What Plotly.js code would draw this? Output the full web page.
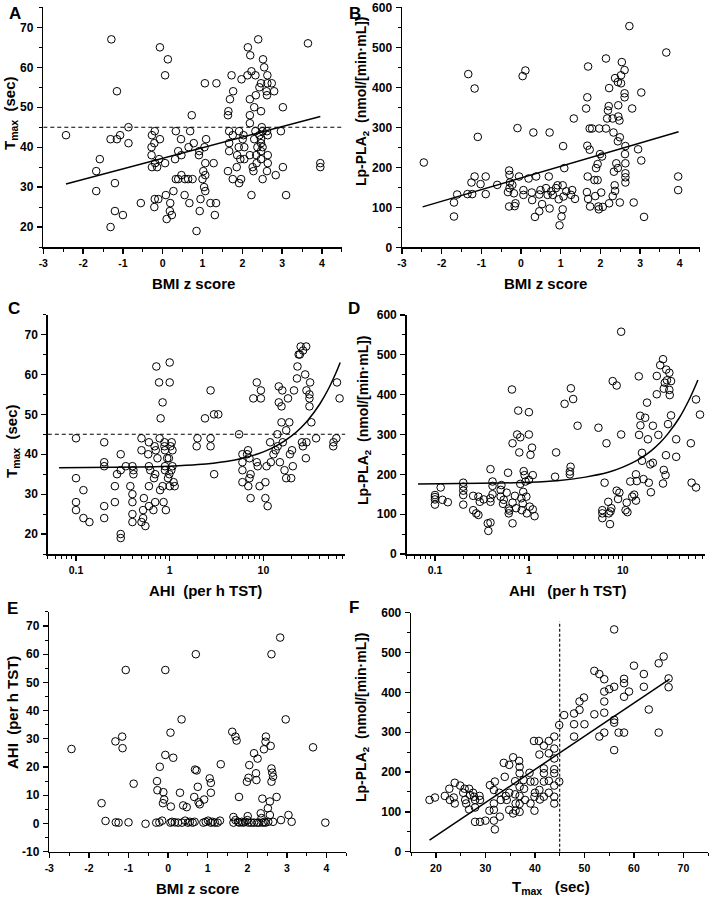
<!DOCTYPE html>
<html><head><meta charset="utf-8">
<script src="https://cdn.plot.ly/plotly-3.0.1.min.js"></script>
<style>body{margin:0;background:#fff}#chart{width:709px;height:900px}</style>
</head><body><div id="chart"></div>
<script>
// ---------- DATA ----------
// Panel A: BMI z score vs Tmax (sec)
const ptsA = [[-2.43,43],[-1.67,34],[-1.58,37],[-1.67,29],[-1.29,67],[-1.15,54],[-1.31,42],[-1.15,42],[-1.07,43],[-1.2,31],[-1.2,24],[-1.0,23],[-1.31,20],[-0.86,45],[-0.86,41],[-0.55,26],
[-0.07,65],[0.13,62],[0.06,58],[-0.2,44],[-0.27,43],[-0.07,42],[-0.21,41],[-0.28,40],[-0.28,38],[-0.09,37],[-0.19,36],[-0.27,35],[-0.14,35],[0.06,36],[-0.2,27],[-0.11,27],[-0.21,25],[0.08,28],[0.19,26],[0.18,24],[0.23,23],[0.1,22],[0.27,29],
[0.33,44],[0.46,42],[0.39,39],[0.31,37],[0.47,38],[0.33,32],[0.39,32],[0.47,33],[0.55,28],[0.67,26],[0.65,40],[0.69,44],[0.73,48],[0.78,41],[0.75,32],[0.64,32],[0.56,32],[0.85,19],[0.91,38],[0.95,27],[0.93,24],[0.92,39],
[1.06,56],[1.35,56],[1.05,40],[1.09,42],[1.07,36],[1.02,34],[1.07,33],[1.0,32],[1.04,30],[1.07,29],[1.2,26],[1.34,26],[1.31,23],[1.28,36],
[1.73,58],[1.77,54],[1.69,52],[1.65,49],[1.64,48],[1.67,44],[1.76,43],[1.67,41],[1.67,39],[1.64,34],[1.76,32],[1.86,35],[1.87,38],[1.91,40],[1.92,44],[1.98,57],[2.01,42],[1.95,37],[2.05,37],[1.92,31],[1.97,32],[2.03,43],[2.05,40],
[2.14,65],[2.4,67],[2.2,63],[2.23,59],[2.13,58],[2.33,58],[2.55,60],[2.52,62],[2.63,58],[2.47,56],[2.63,56],[2.74,56],[2.43,55],[2.61,54],[2.8,54],[2.34,53],[2.62,53],[2.19,52],[2.3,50],[2.47,49],[2.19,48],[2.19,46],[2.49,45],[2.51,44],[2.33,44],[2.62,44],[2.43,43],[2.64,43],[2.3,42],[2.47,42],[2.38,40],[2.51,40],[2.47,41],[2.19,38],[2.35,38],[2.64,38],[2.47,37],[2.36,36],[2.64,36],[2.26,35],[2.28,34],[2.62,34],[2.84,33],[2.51,32],[2.23,28],[2.47,39],
[3.02,50],[2.97,44],[3.02,35],[3.1,28],[3.65,66],[3.96,36],[3.96,35]];
const fitA_x = [-2.43, 3.96];
const fitA_y = [30.8, 47.7];

// Panel B: BMI z score vs Lp-PLA2
const ptsB = [[-2.45,212],[-1.69,77],[-1.69,112],[-1.61,132],[-1.35,133],[-1.33,433],[-1.17,397],[-1.25,162],[-1.17,177],[-1.23,133],[-1.09,276],[-1.02,158],[-0.89,177],[-0.89,133],[-0.6,156],
[-0.3,192],[-0.29,181],[-0.28,162],[-0.22,156],[-0.33,138],[-0.29,148],[-0.3,102],[-0.16,103],[-0.14,110],[-0.09,298],[-0.18,135],[-0.05,177],[0.04,428],[0.11,442],[0.06,143],[0.06,131],[0.19,172],[0.27,137],[0.28,118],[0.35,76],[0.31,287],[0.38,177],[0.46,90],[0.46,132],[0.49,143],[0.53,108],[0.63,148],[0.67,131],[0.7,177],[0.72,287],[0.72,97],[0.76,140],[0.8,131],[0.88,148],[0.92,155],[0.95,120],[0.97,55],[1.02,77],[1.05,95],[1.05,155],[1.07,127],[1.06,253],[1.09,198],[1.14,140],[1.26,131],[1.33,322],[1.36,121],[1.29,143],
[1.64,347],[1.67,375],[1.69,452],[1.67,254],[1.73,244],[1.73,297],[1.79,297],[1.68,177],[1.66,138],[1.69,121],[1.74,102],[1.85,168],[1.89,198],[1.93,208],[1.93,168],[1.87,128],[1.95,102],[1.96,95],[1.97,297],[1.99,233],[2.04,227],[2.02,137],[2.06,101],[2.14,472],[2.14,297],[2.17,322],[2.19,342],[2.22,398],[2.21,353],[2.22,110],
[2.31,322],[2.33,287],[2.34,189],[2.36,155],[2.37,141],[2.31,128],[2.37,423],[2.44,413],[2.4,210],[2.44,198],[2.45,355],[2.45,327],[2.48,317],[2.44,265],[2.49,275],[2.52,430],[2.54,463],[2.52,410],[2.61,443],[2.61,385],[2.61,375],[2.49,112],[2.63,253],[2.62,233],[2.63,210],[2.63,185],[2.63,175],[2.63,162],[2.73,553],[2.8,347],[2.84,112],[2.95,245],[3.03,387],[3.03,217],[3.1,76],[3.66,487],[3.96,177],[3.96,143]];
const fitB_x = [-2.48, 3.97];
const fitB_y = [101, 289];

// Panel C: AHI (log) vs Tmax
const ptsC = [[0.1,44],[0.1,34],[0.1,28],[0.1,26],[0.12,31],[0.12,24],[0.139,23],
[0.2,43],[0.2,38],[0.2,37],[0.2,27],[0.2,24],
[0.26,32],[0.26,28],[0.274,35],[0.3,36],[0.3,40],[0.3,20],[0.3,19],
[0.34,37],[0.38,32],[0.4,30],[0.4,28],[0.4,37],[0.41,36],[0.41,35],[0.4,25],[0.4,23],
[0.5,44],[0.5,41],[0.5,23],[0.52,26],[0.52,24],[0.55,22],[0.53,29],[0.6,43],[0.59,40],[0.6,37],[0.6,32],[0.6,27],[0.62,36],[0.67,26],[0.7,35],[0.7,28],[0.68,34],[0.69,42],[0.71,41],[0.74,39],[0.78,44],[0.72,62],[0.77,58],[0.84,53],[0.8,49],[0.79,31],[0.84,32],[0.86,28],[0.88,43],[0.88,42],[0.89,41],[0.89,37],[0.89,36],[0.91,26],[0.94,39],[0.96,34],[0.99,35],[1.0,32],[1.0,63],[1.0,58],[1.02,42],[1.04,36],[1.07,37],[1.07,41],[1.05,43],[1.1,33],[1.13,32],[0.98,39],
[1.94,42],[1.98,44],[2.38,49],[2.73,56],[2.73,44],[2.73,42],[2.97,50],[3.3,50],[2.98,35],
[5.5,45],[5.97,40],[5.97,38],[5.97,36],[5.97,33],[6.86,41],[6.7,40],[7.1,39],[7.3,35],[7.1,34],[6.9,32],[7.3,29],[7.8,54],[8.5,58],[8.5,38],[8.7,37],[9.1,32],[9.4,56],[9.4,54],[10.5,33],[10.5,29],[11.1,27],[10.8,37],[11.8,43],[12.0,38],[12.8,40],[13.5,41],[14.1,45],[14.2,42],[14.6,57],[14.6,53],[15,38],[15.6,52],[15.6,48],[15.9,56],[16.1,43],[16.8,36],[17.5,46],[17.5,34],[18.3,54],[18.9,48],[19.2,40],[19.8,34],[20.2,41],[20.6,37],[21.2,56],[22.8,59],[23.1,62],[23.8,65],[24.5,65],[25,67],[26.5,66],[28.6,67],[25.8,43],[26.4,42],[27.9,60],[28.8,56],[28.4,39],[28.8,43],[31,55],[31,54],[31,52],[31.5,58],[32.5,48],[36.5,44],[60,44],[55.6,42],[56,43],[61,58],[65,54]];
const fitC_x = [0.066,0.5,1,2,4,6,10,15,20,25,30,40,50,60,66];
const fitC_y = [36.6,36.8,37.0,37.4,38.2,39.0,40.6,42.6,44.6,46.6,48.6,52.6,56.6,60.6,63.0];

// Panel D: AHI (log) vs Lp-PLA2
const ptsD = [[0.1,148],[0.1,137],[0.1,124],[0.1,143],[0.115,167],[0.12,136],[0.137,130],
[0.2,179],[0.2,169],[0.2,159],[0.2,148],[0.2,124],
[0.255,146],[0.255,110],[0.275,102],[0.29,98],[0.29,144],[0.3,131],[0.33,137],[0.365,77],[0.37,58],[0.39,79],[0.39,213],[0.39,140],[0.39,131],[0.41,150],[0.41,182],[0.41,171],[0.51,173],[0.5,161],[0.5,144],[0.53,126],[0.54,136],[0.6,204],[0.58,154],[0.61,102],[0.61,114],[0.62,109],[0.67,129],[0.67,77],[0.67,278],[0.66,413],[0.71,146],[0.73,115],[0.75,300],[0.77,360],[0.79,255],[0.81,293],[0.81,176],[0.83,140],[0.84,110],[0.87,156],[0.86,127],[0.88,208],[0.9,198],[0.92,182],[0.94,144],[0.95,102],[1.0,356],[1.0,300],[1.0,186],[1.02,119],[1.04,249],[1.08,267],[1.1,198],[1.1,112],[1.15,95],
[1.95,255],[1.9,194],[2.4,377],[2.8,416],[2.96,389],[2.78,219],[2.73,207],[2.73,200],[3.3,322],
[5.5,317],[6.4,179],[6.05,90],[6.05,110],[6.05,102],[6.7,278],[7.0,131],[7.1,102],[7.3,75],[7.4,107],[7.55,115],[7.8,434],[8.6,423],[8.6,159],[8.9,138],[9.2,154],[9.6,558],[9.6,300],[10.7,110],[11.0,129],[11.2,105],[12.0,182],[12.6,144],[13.2,149],[13.8,134],[13.8,200],[14.1,183],[14.8,446],[14.9,299],[15.4,323],[15.3,347],[16,254],[16,234],[16.6,188],[17.3,342],[18.1,380],[18.5,288],[18.9,179],[19.6,225],[19.9,155],[20.9,322],[20.9,229],[23,447],[23,401],[23.9,299],[25,474],[26.8,489],[27.3,415],[28,430],[27.3,211],[26.8,177],[28.5,198],[28.8,248],[29,463],[29.5,436],[30.3,326],[31.3,412],[31.6,399],[31.3,455],[32.6,434],[32.6,348],[37,288],[37,244],[53,278],[54,179],[60.2,167],[60.2,388],[66.3,350]];
const fitD_x = [0.066,0.5,1,2,4,7,10,15,20,25,30,40,50,60,63];
const fitD_y = [176,178,180,184,193,205,218,238,259,280,301,342,384,425,437];

// Panel E: BMI z score vs AHI
const ptsE = [[-2.44,26.4],[-1.68,7.2],[-1.58,0.9],[-1.33,29.1],[-1.16,30.8],[-1.15,26.7],[-1.07,54.4],[-1.32,0.4],[-1.25,0.3],[-1.0,0.4],[-0.87,14.1],[-0.57,-0.1],[-0.28,15],[-0.27,11.8],[-0.21,20.1],[-0.3,0.3],[-0.22,0.4],[-0.12,11.1],[-0.13,7.2],[-0.1,8.5],[-0.15,1.0],[-0.07,54.4],[-0.07,24.3],[0.06,32.2],[0.07,6.0],[0.13,23.3],[0.06,0.3],[0.17,0.4],[0.3,10.9],[0.34,36.9],[0.38,6.4],[0.47,5.8],[0.35,0.3],[0.43,1.0],[0.5,0.3],[0.62,0.3],[0.66,9.4],[0.68,19.1],[0.72,18.8],[0.7,60],[0.75,13],[0.77,7.5],[0.8,6.8],[0.67,0.6],[0.89,0.3],[0.91,8.5],[1.01,1.0],[1.05,16],[1.08,14.4],[1.08,10.9],[1.08,0.3],[1.18,0.3],[1.25,0.3],[1.33,21],[1.31,1.0],[1.62,32.5],[1.7,30.8],[1.73,29.4],[1.65,0.3],[1.7,1.2],[1.65,2.3],[1.79,9.4],[1.77,0.6],[1.86,0.6],[1.95,0.6],[1.99,14.8],[2.05,20.7],[2.03,16.2],[2.01,2.6],[2.0,1.2],[2.03,0.3],[2.17,24.9],[2.22,17.8],[2.23,15.4],[2.26,23],[2.17,0.3],[2.3,0.3],[2.34,3.6],[2.36,1.9],[2.38,8.8],[2.42,26.3],[2.47,30.8],[2.46,29],[2.52,5.4],[2.57,7.8],[2.59,27.5],[2.57,3.0],[2.39,0.3],[2.46,0.3],[2.53,0.6],[2.61,60],[2.61,19.5],[2.63,18],[2.65,16.6],[2.61,14.8],[2.65,0.6],[2.74,9.4],[2.83,65.9],[2.85,1.2],[2.97,36.9],[3.04,3.0],[3.12,0.6],[3.66,27],[3.97,0.3],
[1.8,0.3],[1.9,0.3],[2.1,0.3],[2.25,0.3],[2.43,0.6],[0.25,0.3],[0.55,0.6],[0.95,0.6],[0.1,0.6],[1.12,0.6]];

// Panel F: Tmax vs Lp-PLA2
const ptsF = [[18.7,130],[19.8,136],[21.8,140],[22.7,158],[22.8,130],[23.8,173],[23.8,121],[23.6,136],[24.9,166],[25.5,148],[25.8,158],[25.9,130],[26.1,121],[26.7,158],[26.9,142],[26.7,106],[27.5,148],[27.7,138],[27.9,130],[27.9,75],[27.9,111],[28.8,140],[28.9,130],[28.9,75],[30,78],[30.8,103],[30.9,167],[31.9,176],[31.7,155],[31.7,121],[31.7,105],[31.7,78],[31.9,56],[32.8,148],[32.9,88],[33.1,130],[33.7,223],[33.9,188],[34.1,140],[34.3,130],[34.8,218],[34.8,148],[34.8,105],[35.6,237],[36,177],[36,144],[36.1,121],[36.1,103],[35.6,96],[36.8,228],[36.9,213],[36.9,197],[36.9,163],[36.9,140],[36.9,120],[36.9,100],[37.7,180],[37.8,158],[38,130],[38.9,198],[39.1,121],[39.1,176],[39.8,278],[39.9,176],[39.9,138],[39.9,103],[40,148],[40.8,278],[40.9,244],[40.9,155],[41,131],[41.8,266],[41.8,209],[41.8,197],[41.8,176],[41.8,138],[42.8,278],[42.8,247],[42.8,178],[42.8,148],[43.9,289],[43.9,259],[43.9,234],[43.9,207],[43.9,197],[43.9,166],[43.9,138],[43.9,121],[44.9,176],[44.9,318],[45.9,343],[47.9,347],[47.9,320],[47.9,289],[49,356],[49,377],[49.9,387],[50,320],[52,454],[52,345],[53,446],[53,289],[54,433],[54,402],[54,377],[54,349],[54,299],[55,408],[56,558],[56,414],[56,331],[56,324],[56,255],[56.9,299],[58,299],[58,434],[58,423],[58,389],[59,402],[60,467],[62,446],[62,414],[63,357],[65,473],[65,299],[66,490],[67,435],[67,413]];
const fitF_x = [18.7, 67.2];
const fitF_y = [29, 433];

// Reference (cut-off) lines
const tmaxCut = 45;
const refF_y = [0, 578];

// Tick values / labels
const bmiTicks  = [-3, -2, -1, 0, 1, 2, 3, 4];
const tmaxTicks = [20, 30, 40, 50, 60, 70];
const lpTicks   = [0, 100, 200, 300, 400, 500, 600];
const ahiTicks  = [-10, 0, 10, 20, 30, 40, 50, 60, 70];
const logTickVals = [0.1, 1, 10];
const logTickText = ['0.1', '1', '10'];

// Texts
const panelLetters = ['A','B','C','D','E','F'];
const tmaxTitle = 'T<sub>max</sub>\u00a0\u00a0(sec)';
const lpTitle = 'Lp-PLA<sub>2</sub>\u00a0\u00a0(nmol/[min\u00b7mL])';
const bmiTitle = 'BMI z score';
const ahiTitle = 'AHI\u00a0\u00a0(per h TST)';

// ---------- BUILD ----------
const W = 709, H = 900;
const FONT = 'Liberation Sans, Arial, Helvetica, sans-serif';
const xs = p => p.map(d => d[0]);
const ys = p => p.map(d => d[1]);
const bold = arr => arr.map(v => '<b>' + v + '</b>');

function scat(pts, ax) {
  return {type:'scatter', mode:'markers', x: xs(pts), y: ys(pts), xaxis:'x'+ax, yaxis:'y'+ax,
    marker:{symbol:'circle-open', size:7.6, color:'#000', line:{width:1, color:'#000'}},
    hoverinfo:'skip', showlegend:false, cliponaxis:false};
}
function line(x, y, ax, dash, shape) {
  return {type:'scatter', mode:'lines', x:x, y:y, xaxis:'x'+ax, yaxis:'y'+ax,
    line:{color:'#000', width: dash ? 1.1 : 1.5, dash: dash || 'solid', shape: shape || 'linear', smoothing:0.6},
    hoverinfo:'skip', showlegend:false};
}

const data = [
  scat(ptsA, ''), line(fitA_x, fitA_y, ''), line([-3, 4.5], [tmaxCut, tmaxCut], '', '4px,3px'),
  scat(ptsB, '2'), line(fitB_x, fitB_y, '2'),
  scat(ptsC, '3'), line(fitC_x, fitC_y, '3', null, 'spline'), line([0.05, 75], [tmaxCut, tmaxCut], '3', '4px,3px'),
  scat(ptsD, '4'), line(fitD_x, fitD_y, '4', null, 'spline'),
  scat(ptsE, '5'),
  scat(ptsF, '6'), line(fitF_x, fitF_y, '6'), line([tmaxCut, tmaxCut], refF_y, '6', '3px,2px')
];

const xTickFont = {family: FONT, size: 10.5, color: '#000', weight: 'bold'};
const yTickFont = {family: FONT, size: 12, color: '#000', weight: 'bold'};
function ax(isY, ticks, extra) {
  return Object.assign({
    showline:true, linecolor:'#000', linewidth:1.5, ticks:'outside', ticklen:5, tickwidth:1.3,
    tickcolor:'#000', showgrid:false, zeroline:false, tickfont: isY ? yTickFont : xTickFont, fixedrange:true,
    automargin:false, ticklabelstandoff: 1,
    tickmode:'array', tickvals: ticks[0], ticktext: bold(ticks[1])
  }, extra);
}
function minor(d) { return {tickmode:'linear', dtick:d, ticks:'outside', ticklen:3, tickwidth:1, tickcolor:'#000', showgrid:false}; }
const dx = (a, b) => [a / W, b / W];
const dy = (top, bottom) => [1 - bottom / H, 1 - top / H];
const LOGR = [Math.log10(0.05), Math.log10(75)];
const T = a => [a, a];

const layout = {
  width: W, height: H, margin:{l:0, r:0, t:0, b:0}, paper_bgcolor:'#fff', plot_bgcolor:'rgba(0,0,0,0)',
  showlegend:false,
  xaxis:  ax(false, T(bmiTicks),  {domain: dx(43.3, 341.8), range:[-3, 4.5], minor: minor(0.5), anchor:'y'}),
  yaxis:  ax(true,  T(tmaxTicks), {domain: dy(7.4, 247), range:[15, 75], minor: minor(5), anchor:'x'}),
  xaxis2: ax(false, T(bmiTicks),  {domain: dx(402, 699.6), range:[-3, 4.5], minor: minor(0.5), anchor:'y2'}),
  yaxis2: ax(true,  T(lpTicks),   {domain: dy(7.3, 247.3), range:[0, 600], minor: minor(50), anchor:'x2'}),
  xaxis3: ax(false, [logTickVals, logTickText], {type:'log', domain: dx(47.8, 345.4), range: LOGR, minor: minor('D1'), anchor:'y3'}),
  yaxis3: ax(true,  T(tmaxTicks), {domain: dy(314.6, 554), range:[15, 75], minor: minor(5), anchor:'x3'}),
  xaxis4: ax(false, [logTickVals, logTickText], {type:'log', domain: dx(406.7, 705), range: LOGR, minor: minor('D1'), anchor:'y4'}),
  yaxis4: ax(true,  T(lpTicks),   {domain: dy(315, 554), range:[0, 600], minor: minor(50), anchor:'x4'}),
  xaxis5: ax(false, T(bmiTicks),  {domain: dx(49.3, 346.3), range:[-3, 4.5], minor: minor(0.5), anchor:'y5'}),
  yaxis5: ax(true,  T(ahiTicks),  {domain: dy(611.9, 851.7), range:[-10, 75], minor: minor(5), anchor:'x5'}),
  xaxis6: ax(false, T(tmaxTicks), {domain: dx(411.2, 708.2), range:[15, 75], minor: minor(5), anchor:'y6'}),
  yaxis6: ax(true,  T(lpTicks),   {domain: dy(612.7, 851.7), range:[0, 600], minor: minor(50), anchor:'x6'}),
  annotations: []
};

function ann(text, px, py, size, angle) {
  layout.annotations.push({text: text, xref:'paper', yref:'paper', x: px / W, y: 1 - py / H,
    xanchor:'center', yanchor:'middle', showarrow:false, textangle: angle || 0,
    font:{family: FONT, size: size, color:'#000', weight:'bold'}});
}
// panel letters
const letterPos = [[15,14],[355,13],[14,308],[354,308],[12,608],[354,607]];
panelLetters.forEach((L, i) => ann('<b>' + L + '</b>', letterPos[i][0], letterPos[i][1], 17));
// y titles
ann('<b>' + tmaxTitle + '</b>', 11, 113, 15, -90);
ann('<b>' + lpTitle + '</b>', 362, 101, 14, -90);
ann('<b>' + tmaxTitle + '</b>', 12, 441, 15, -90);
ann('<b>' + lpTitle + '</b>', 364, 420, 14, -90);
ann('<b>' + ahiTitle + '</b>', 12, 713, 15, -90);
ann('<b>' + lpTitle + '</b>', 362, 717, 14, -90);
// x titles
ann('<b>' + bmiTitle + '</b>', 193, 283, 15);
ann('<b>' + bmiTitle + '</b>', 545, 283, 15);
ann('<b>' + ahiTitle + '</b>', 205, 590, 15);
ann('<b>AHI\u00a0\u00a0\u00a0(per h TST)</b>', 568, 590, 15);
ann('<b>' + bmiTitle + '</b>', 197, 888, 15);
ann('<b>T<sub>max</sub>\u00a0\u00a0\u00a0(sec)</b>', 551, 887, 15);

Plotly.newPlot('chart', data, layout, {staticPlot:true, displayModeBar:false});
</script>
</body></html>
